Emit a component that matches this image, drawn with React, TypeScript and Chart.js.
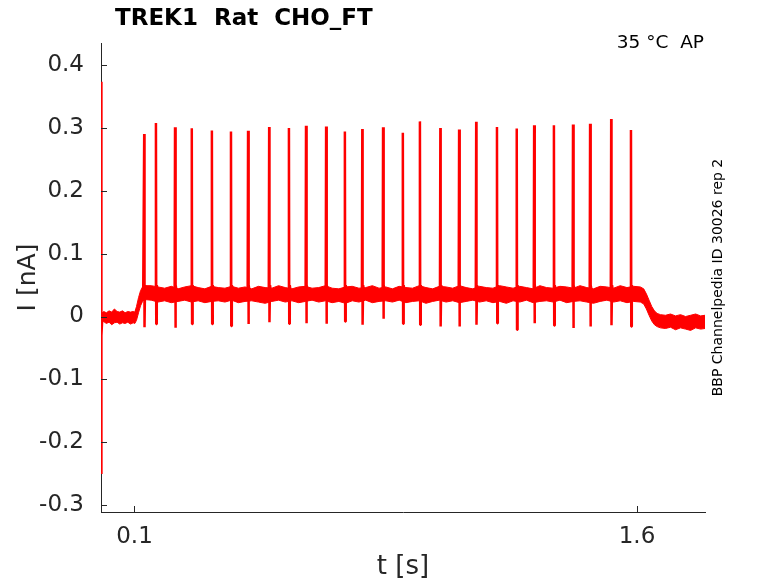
import React, { useEffect, useRef } from "react";
import { Chart, registerables } from "chart.js";

Chart.register(...registerables);

// ---------- texts ----------
const titleText = "TREK1  Rat  CHO_FT";
const conditionText = "35 °C  AP";
const sideNote = "BBP Channelpedia ID 30026 rep 2";
const xLabel = "t [s]";
const yLabel = "I [nA]";

// ---------- axes ----------
const xRange = [0, 1.803];
const yRange = [-0.3105, 0.4345];
const xTicks = [0.1, 1.6];
const xTickLabels = ["0.1", "1.6"];
const yTicks = [-0.3, -0.2, -0.1, 0, 0.1, 0.2, 0.3, 0.4];
const yTickLabels = ["-0.3", "-0.2", "-0.1", "0", "0.1", "0.2", "0.3", "0.4"];

// ---------- action-potential current spikes ----------
const spikeTimes = [
  0.129, 0.164, 0.221, 0.271, 0.331, 0.388, 0.439, 0.502, 0.561, 0.612,
  0.672, 0.728, 0.780, 0.842, 0.901, 0.952, 1.013, 1.069, 1.120, 1.182,
  1.241, 1.293, 1.352, 1.409, 1.460, 1.523, 1.582,
];
const spikePeaks = [
  0.290, 0.3075, 0.3005, 0.299, 0.2957, 0.294, 0.295, 0.301, 0.2995, 0.303,
  0.302, 0.294, 0.298, 0.3005, 0.292, 0.310, 0.2995, 0.297, 0.3095, 0.301,
  0.2985, 0.3037, 0.3037, 0.305, 0.3064, 0.3138, 0.2964,
];
const spikeTroughs = [
  -0.017, -0.012, -0.018, -0.012, -0.012, -0.015, -0.012, -0.009, -0.0116, -0.0105,
  -0.0116, -0.008, -0.013, -0.0037, -0.0116, -0.013, -0.016, -0.016, -0.013, -0.0105,
  -0.021, -0.0105, -0.0143, -0.0184, -0.016, -0.0137, -0.016,
];
const spikeBase = 0.036;
const spikeRebound = 0.05;
const spikeOffsets = [-0.0012, 0, 0.0009, 0.0025, 0.006];

// ---------- slow trace knots (transient, step on, step off) ----------
const traceTimes = [0.0006, 0.0006, 0.0012, 0.0018, 0.004, 0.1, 0.126, 1.612, 1.662, 1.803];
const traceValues = [0, 0.373, -0.25, -0.03, 0, 0, 0.036, 0.036, -0.008, -0.008];

// ---------- noise band envelope ----------
const bandTimes = [
  0.002, 0.008, 0.016, 0.024, 0.032, 0.040, 0.048, 0.056, 0.064, 0.072,
  0.080, 0.088, 0.096, 0.101, 0.106, 0.112, 0.118, 0.124, 0.130,
  0.15, 0.17, 0.19, 0.21, 0.23, 0.25, 0.27, 0.29, 0.31, 0.33,
  0.35, 0.37, 0.39, 0.41, 0.43, 0.45, 0.47, 0.49, 0.51, 0.53,
  0.55, 0.57, 0.59, 0.61, 0.63, 0.65, 0.67, 0.69, 0.71, 0.73,
  0.75, 0.77, 0.79, 0.81, 0.83, 0.85, 0.87, 0.89, 0.91, 0.93,
  0.95, 0.97, 0.99, 1.01, 1.03, 1.05, 1.07, 1.09, 1.11, 1.13,
  1.15, 1.17, 1.19, 1.21, 1.23, 1.25, 1.27, 1.29, 1.31, 1.33,
  1.35, 1.37, 1.39, 1.41, 1.43, 1.45, 1.47, 1.49, 1.51, 1.53,
  1.55, 1.57, 1.59, 1.61,
  1.620, 1.628, 1.636, 1.644, 1.652, 1.660, 1.670,
  1.685, 1.700, 1.715, 1.730, 1.745, 1.760, 1.775, 1.790, 1.803,
];
const bandUpper = [
  0.005, 0.008, 0.006, 0.009, 0.007, 0.012, 0.008, 0.007, 0.009, 0.006,
  0.008, 0.007, 0.008, 0.007, 0.016, 0.030, 0.041, 0.047, 0.049,
  0.049, 0.047, 0.045, 0.048, 0.044, 0.047, 0.049, 0.046, 0.044, 0.048,
  0.046, 0.045, 0.048, 0.045, 0.047, 0.044, 0.048, 0.046, 0.045, 0.049,
  0.046, 0.044, 0.047, 0.048, 0.045, 0.046, 0.049, 0.045, 0.044, 0.047,
  0.048, 0.045, 0.046, 0.049, 0.045, 0.047, 0.044, 0.048, 0.046, 0.045,
  0.049, 0.046, 0.044, 0.048, 0.047, 0.045, 0.049, 0.046, 0.044, 0.048,
  0.046, 0.045, 0.049, 0.047, 0.045, 0.048, 0.046, 0.044, 0.049, 0.046,
  0.045, 0.048, 0.047, 0.045, 0.049, 0.046, 0.044, 0.048, 0.047, 0.045,
  0.049, 0.046, 0.048, 0.047,
  0.044, 0.036, 0.026, 0.016, 0.009, 0.005, 0.003,
  0.002, 0.004, 0.001, 0.003, 0.000, 0.002, 0.004, 0.001, 0.002,
];
const bandLower = [
  -0.011, -0.008, -0.011, -0.009, -0.013, -0.010, -0.009, -0.012, -0.010, -0.011,
  -0.009, -0.012, -0.010, -0.011, -0.006, 0.006, 0.017, 0.024, 0.027,
  0.026, 0.023, 0.025, 0.022, 0.024, 0.026, 0.023, 0.025, 0.022, 0.024,
  0.025, 0.023, 0.026, 0.022, 0.024, 0.025, 0.023, 0.021, 0.024, 0.026,
  0.023, 0.025, 0.022, 0.024, 0.026, 0.023, 0.025, 0.022, 0.024, 0.021,
  0.025, 0.023, 0.026, 0.022, 0.024, 0.025, 0.023, 0.026, 0.022, 0.024,
  0.025, 0.021, 0.024, 0.026, 0.023, 0.025, 0.022, 0.024, 0.026, 0.023,
  0.025, 0.022, 0.024, 0.021, 0.025, 0.023, 0.026, 0.022, 0.024, 0.025,
  0.023, 0.026, 0.022, 0.024, 0.025, 0.023, 0.021, 0.024, 0.026, 0.023,
  0.025, 0.022, 0.024, 0.023,
  0.020, 0.012, 0.002, -0.007, -0.013, -0.016, -0.018,
  -0.019, -0.017, -0.021, -0.018, -0.020, -0.022, -0.018, -0.020, -0.019,
];

// ---------- styling ----------
const RED = "#ff0000";
const AXIS = "#262626";
const FONT = "'DejaVu Sans', 'Liberation Sans', sans-serif";
const W = 778;
const H = 583;

function buildBand(values: number[]) {
  const n = Math.min(bandTimes.length, values.length);
  const pts: { x: number; y: number }[] = [];
  for (let i = 0; i < n; i++) pts.push({ x: bandTimes[i], y: values[i] });
  return pts;
}

function buildTrace() {
  const pts: { x: number; y: number; k: number }[] = [];
  let k = 0;
  for (let i = 0; i < traceTimes.length; i++) pts.push({ x: traceTimes[i], y: traceValues[i], k: k++ });
  for (let i = 0; i < spikeTimes.length; i++) {
    const shape = [spikeBase, spikePeaks[i], spikeTroughs[i], spikeRebound, spikeBase];
    for (let j = 0; j < spikeOffsets.length; j++) {
      pts.push({ x: spikeTimes[i] + spikeOffsets[j], y: shape[j], k: k++ });
    }
  }
  pts.sort((a, b) => (a.x - b.x) || (a.k - b.k));
  return pts.map((p) => ({ x: p.x, y: p.y }));
}

function labelFor(ticks: number[], labels: string[], v: number) {
  for (let i = 0; i < ticks.length; i++) if (Math.abs(ticks[i] - v) < 1e-6) return labels[i];
  return "";
}

const decorPlugin = {
  id: "decor",
  afterDraw(chart: any) {
    const ctx = chart.ctx as CanvasRenderingContext2D;
    const { left, bottom } = chart.chartArea;
    const xs = chart.scales.x;
    const ys = chart.scales.y;
    ctx.save();
    // inward tick marks
    ctx.strokeStyle = AXIS;
    ctx.lineWidth = 1;
    ctx.beginPath();
    xTicks.forEach((v) => {
      const px = Math.round(xs.getPixelForValue(v)) + 0.5;
      ctx.moveTo(px, bottom);
      ctx.lineTo(px, bottom - 6);
    });
    yTicks.forEach((v) => {
      const py = Math.round(ys.getPixelForValue(v)) + 0.5;
      ctx.moveTo(left, py);
      ctx.lineTo(left + 6, py);
    });
    ctx.stroke();

    // title
    ctx.fillStyle = "#000";
    ctx.textBaseline = "alphabetic";
    ctx.textAlign = "left";
    ctx.font = `bold 23px ${FONT}`;
    ctx.fillText(titleText, 115, 25);

    // condition (top right)
    ctx.textAlign = "right";
    ctx.font = `18.5px ${FONT}`;
    ctx.fillText(conditionText, 704, 48);

    // axis labels
    ctx.fillStyle = AXIS;
    ctx.textAlign = "center";
    ctx.font = `26px ${FONT}`;
    ctx.fillText(xLabel, (chart.chartArea.left + chart.chartArea.right) / 2, 574);

    ctx.save();
    ctx.translate(35, (chart.chartArea.top + chart.chartArea.bottom) / 2);
    ctx.rotate(-Math.PI / 2);
    ctx.font = `25px ${FONT}`;
    ctx.fillText(yLabel, 0, 0);
    ctx.restore();

    // side note
    ctx.save();
    ctx.fillStyle = "#000";
    ctx.translate(722, (chart.chartArea.top + chart.chartArea.bottom) / 2);
    ctx.rotate(-Math.PI / 2);
    ctx.font = `14px ${FONT}`;
    ctx.textAlign = "center";
    ctx.fillText(sideNote, 0, 0);
    ctx.restore();

    ctx.restore();
  },
};

export default function App() {
  const canvasRef = useRef<HTMLCanvasElement | null>(null);

  useEffect(() => {
    const canvas = canvasRef.current;
    if (!canvas) return;
    const chart = new Chart(canvas, {
      type: "line",
      data: {
        datasets: [
          {
            data: buildBand(bandUpper),
            borderColor: RED,
            borderWidth: 1,
            pointRadius: 0,
            fill: false,
            tension: 0,
          },
          {
            data: buildBand(bandLower),
            borderColor: RED,
            backgroundColor: RED,
            borderWidth: 1,
            pointRadius: 0,
            fill: "-1",
            tension: 0,
          },
          {
            data: buildTrace(),
            borderColor: RED,
            borderWidth: 2.5,
            borderJoinStyle: "bevel",
            pointRadius: 0,
            fill: false,
            tension: 0,
          },
        ],
      } as any,
      options: {
        animation: false,
        responsive: false,
        events: [],
        layout: { padding: { left: 0, top: 43, right: 73, bottom: 0 } },
        plugins: {
          legend: { display: false },
          title: { display: false },
          tooltip: { enabled: false },
        },
        scales: {
          x: {
            type: "linear",
            position: "bottom",
            min: xRange[0],
            max: xRange[1],
            afterFit: (s: any) => {
              s.height = H - 512;
            },
            afterBuildTicks: (s: any) => {
              s.ticks = xTicks.map((v) => ({ value: v }));
            },
            ticks: {
              autoSkip: false,
              maxRotation: 0,
              padding: 11,
              color: AXIS,
              font: { family: FONT, size: 23 },
              callback: (v: any) => labelFor(xTicks, xTickLabels, Number(v)),
            },
            grid: { display: true, drawOnChartArea: false, drawTicks: false },
            border: { display: true, color: AXIS, width: 1 },
          },
          y: {
            type: "linear",
            position: "left",
            min: yRange[0],
            max: yRange[1],
            afterFit: (s: any) => {
              s.width = 101;
            },
            afterBuildTicks: (s: any) => {
              s.ticks = yTicks.map((v) => ({ value: v }));
            },
            ticks: {
              autoSkip: false,
              padding: 17,
              color: AXIS,
              font: { family: FONT, size: 23 },
              callback: (v: any) => labelFor(yTicks, yTickLabels, Number(v)),
            },
            grid: { display: true, drawOnChartArea: false, drawTicks: false },
            border: { display: true, color: AXIS, width: 1 },
          },
        },
      } as any,
      plugins: [decorPlugin],
    });
    return () => chart.destroy();
  }, []);

  return (
    <div style={{ position: "absolute", left: 0, top: 0, width: W, height: H, background: "#fff" }}>
      <canvas ref={canvasRef} width={W} height={H} style={{ display: "block" }} />
    </div>
  );
}
